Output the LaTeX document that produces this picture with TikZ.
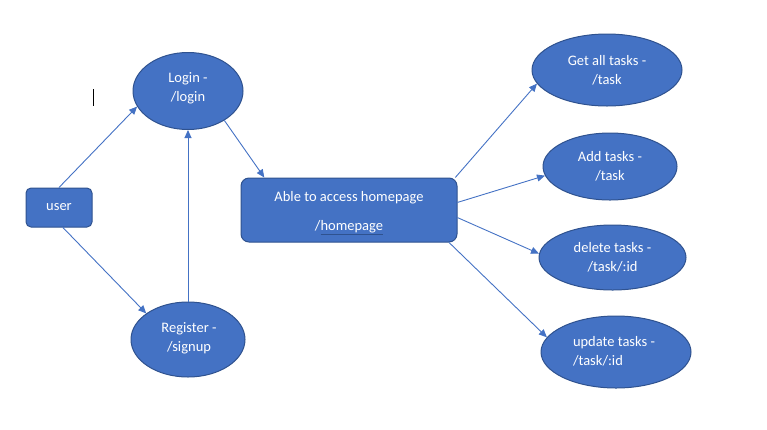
\documentclass[tikz,border=0pt]{standalone}
\usepackage{fontspec}
\setmainfont{Carlito}
\usetikzlibrary{arrows.meta,shapes.geometric}
\definecolor{ofill}{HTML}{4472C4}
\definecolor{oline}{HTML}{2F528F}
\definecolor{oarrow}{HTML}{4472C4}
\tikzset{
  base/.style={fill=ofill, draw=oline, line width=1pt, text=white, inner sep=0pt,
    font=\fontsize{14.5}{19}\selectfont, align=center},
  rbox/.style={base, rectangle, rounded corners=#1},
  conn/.style={draw=oarrow, line width=0.9pt, -{Triangle[length=8pt,width=7pt]}},
}
\begin{document}
\begin{tikzpicture}[x=1pt,y=-1pt]
\useasboundingbox (0,0) rectangle (767,429);
% cursor mark
\coordinate (curtop) at (93,89);
\coordinate (curbot) at (93,106);
\draw[black, line width=1pt] (curtop) -- (curbot);

\node[base, ellipse, minimum width=110, minimum height=77] (login) at (188,91) {};
\node[text=white, font=\fontsize{14.5}{19}\selectfont, align=center] at (188,88.5) {Login -\\/login};

\node[rbox=5, minimum width=66, minimum height=39] (user) at (59,207.5) {user};

\node[base, ellipse, minimum width=114, minimum height=75] (register) at (188,339.5) {};
\node[text=white, font=\fontsize{14.5}{19}\selectfont, align=center] at (189,338) {Register -\\/signup};

\node[rbox=8, minimum width=216, minimum height=64] (home) at (349,210) {};
\node[text=white, font=\fontsize{14.5}{29}\selectfont, align=center] at (349,213)
  {Able to access homepage\\/\textcolor{oline}{\underline{\textcolor{white}{homepage}}}};

\node[base, ellipse, minimum width=150, minimum height=72] (getall) at (607,70) {Get all tasks -\\/task};
\node[base, ellipse, minimum width=134, minimum height=67] (add) at (610,166.5) {Add tasks -\\/task};
\node[base, ellipse, minimum width=147, minimum height=65] (delete) at (612.5,257.5) {delete tasks -\\/task/:id};
\node[base, ellipse, minimum width=150, minimum height=72] (update) at (616,352) {};
\node[text=white, font=\fontsize{14.5}{19}\selectfont, align=left] at (614,351.5) {update tasks -\\/task/:id};

\draw[conn] (user.north) -- (login.197);
\draw[conn] (register.north) -- (login.south);
\draw[conn] (user.281) -- (register.148);
\draw[conn] (login.321) -- (home.159);
\draw[conn] (home.17) -- (getall.191);
\draw[conn] (home.4) -- (add.188);
\draw[conn] (home.356) -- (delete.177);
\draw[conn] (home.342) -- (update.168);
\end{tikzpicture}
\end{document}
